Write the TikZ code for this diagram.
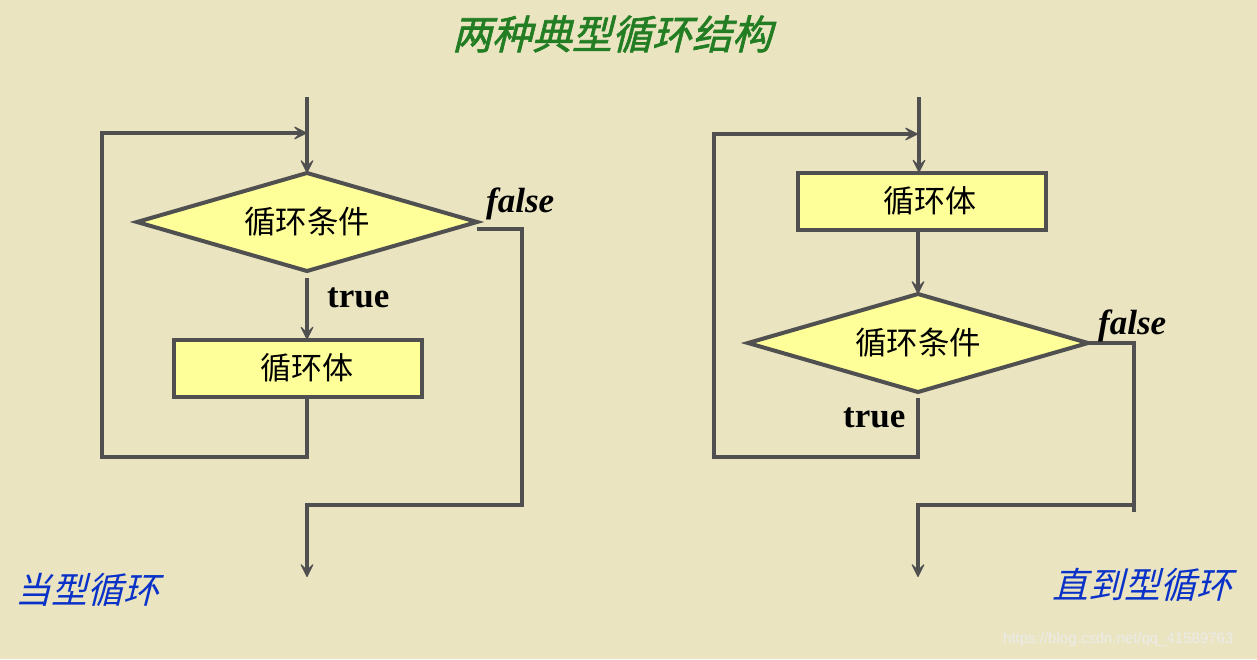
\documentclass[tikz,border=0pt]{standalone}
\usepackage{fontspec}
\setmainfont{Liberation Serif}
\newfontfamily\cjk{Noto Sans CJK SC}
\newfontfamily\cjkt[FakeSlant=0.25]{Noto Sans CJK SC}
\newfontfamily\cjktb[FakeSlant=0.25,FakeBold=1.6]{Noto Sans CJK SC}
\newfontfamily\wmfont{Liberation Sans}
\usetikzlibrary{shapes.geometric,arrows.meta,calc}
\definecolor{bg}{RGB}{234,228,193}
\definecolor{yel}{RGB}{255,255,153}
\definecolor{lc}{RGB}{80,80,80}
\definecolor{tgreen}{RGB}{35,125,35}
\definecolor{tblue}{RGB}{10,50,200}
\begin{document}
\begin{tikzpicture}[x=1pt,y=-1pt,
  line/.style={draw=lc, line width=4pt},
  arr/.style={line, -{Stealth[length=15pt,width=15pt,inset=7pt,line width=1pt,round]}},
  dec/.style={diamond, aspect=3.47, draw=lc, line width=4pt, fill=yel, minimum width=340pt, minimum height=98pt, inner sep=0pt, outer sep=0pt, font=\cjk\fontsize{31.5}{32}\selectfont},
  boxn/.style={rectangle, draw=lc, line width=4pt, fill=yel, minimum width=248pt, minimum height=57pt, inner sep=0pt, outer sep=0pt, font=\cjk\fontsize{31}{31}\selectfont},
  lab/.style={font=\bfseries\fontsize{35}{35}\selectfont, inner sep=0pt, anchor=base west},
  ttl/.style={font=\cjktb\fontsize{40}{40}\selectfont, inner sep=0pt},
  captxt/.style={font=\cjkt\fontsize{36}{36}\selectfont, inner sep=0pt, text=tblue},
  wm/.style={font=\wmfont\fontsize{15}{15}\selectfont, inner sep=0pt}
]
\fill[bg] (0,0) rectangle (1257,659);
\useasboundingbox (0,0) rectangle (1257,659);

% title
\node[ttl, text=tgreen] (title) at (612,34) {两种典型循环结构};

% ---------- left: 当型循环 ----------
\coordinate (s1) at (307,97);
\node[dec] (d1) at (307,222) {循环条件};
\node[boxn] (b1) at (298,368) {\hspace*{18pt}循环体};
\coordinate (t1) at (307,278);
\coordinate (lb1) at (102,457);
\coordinate (j1) at (307,133);
\coordinate (f1) at (477,229);
\coordinate (fc1) at (522,505);
\coordinate (e1) at (307,577);
\draw[arr] (s1) -- (d1.north);
\draw[arr] (t1) -- (t1 |- b1.north);
\draw[arr] (b1.south -| j1) |- (lb1) |- (j1);
\draw[arr] (f1) -| (fc1) -| (e1);
\node[lab] (fl1) at (486,212) {\itshape false};
\node[lab] (tl1) at (327,307) {true};
\node[captxt] (c1) at (87,590) {当型循环};

% ---------- right: 直到型循环 ----------
\coordinate (s2) at (919,97);
\node[boxn] (b2) at (922,201) {\hspace*{16pt}循环体};
\node[dec] (d2) at (918,343) {循环条件};
\coordinate (t2) at (918,398);
\coordinate (lb2) at (714,457);
\coordinate (j2) at (918,134);
\coordinate (fv2) at (1134,512);
\coordinate (fc2) at (1134,505);
\coordinate (e2) at (918,577);
\draw[arr] (s2) -- (s2 |- b2.north);
\draw[arr] (b2.south -| d2) -- (d2.north);
\draw[arr] (t2) |- (lb2) |- (j2);
\draw[line] (d2.east) -| (fv2);
\draw[arr] (fc2) -| (e2);
\node[lab] (fl2) at (1098,334) {\itshape false};
\node[lab] (tl2) at (843,427) {true};
\node[captxt] (c2) at (1142,585) {直到型循环};

% watermark
\node[wm, text=white!92!black, anchor=west] (wmk) at (1003,640) {https://blog.csdn.net/qq\_41589763};
\end{tikzpicture}
\end{document}
